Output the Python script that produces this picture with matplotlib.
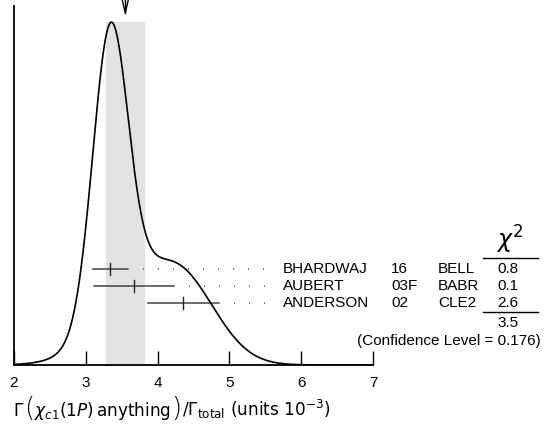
import numpy as np
import matplotlib
matplotlib.use("Agg")
import matplotlib.pyplot as plt
from matplotlib.offsetbox import TextArea, HPacker, AnchoredOffsetbox

plt.rcParams['font.family'] = ['Liberation Sans', 'DejaVu Sans']
plt.rcParams['mathtext.fontset'] = 'dejavusans'

# data
authors = ["BHARDWAJ", "AUBERT", "ANDERSON"]
years = ["16", "03F", "02"]
experiments = ["BELL", "BABR", "CLE2"]
values = [3.34, 3.67, 4.36]
errors = [0.245, 0.555, 0.49]
chi2 = ["0.8", "0.1", "2.6"]
chi2_total = "3.5"
conf_level = "0.176"
avg_value = 3.55
avg_error = 0.27
xticks = [2, 3, 4, 5, 6, 7]

W, H = 546, 430
fig = plt.figure(figsize=(W / 100, H / 100), dpi=100)
ax = fig.add_axes([14 / W, 65 / H, 359 / W, 359 / H])

def fx(px):
    return px / W

def fy(py):
    return 1 - py / H

# ideogram
x = np.linspace(2, 7, 1000)
v = np.array(values)
e = np.array(errors)
curve = np.zeros_like(x)
for vi, ei in zip(v, e):
    curve += (1 / ei ** 2) * np.exp(-0.5 * ((x - vi) / ei) ** 2)
peak = 0.955
curve = curve / curve.max() * peak

ax.fill_between([avg_value - avg_error, avg_value + avg_error], 0, peak,
                color='#e3e3e3', lw=0, zorder=0)
ax.plot(x, curve, color='black', lw=1.2, zorder=3)

row_y = [0.267, 0.220, 0.173]
for yi, vi, ei in zip(row_y, values, errors):
    ax.plot([vi - ei, vi + ei], [yi, yi], color='#444444', lw=1.1, zorder=2)
    ax.plot([vi, vi], [yi - 0.017, yi + 0.017], color='#222222', lw=1.0, zorder=2)
    ax.plot([vi + ei + 0.21, 5.62], [yi, yi], color='#666666', lw=1.2,
            linestyle=(0, (0.6, 8.4)), zorder=1)

# arrow at top
ax.plot([avg_value, avg_value], [0.981, 1.017], color='black', lw=1.0, clip_on=False)
ax.plot([avg_value - 0.042, avg_value, avg_value + 0.042], [1.017, 0.981, 1.017],
        color='black', lw=1.0, clip_on=False)

ax.set_xlim(2, 7)
ax.set_ylim(0, 1)
ax.set_xticks(xticks)
ax.set_xticklabels([str(t) for t in xticks], fontsize=11)
ax.tick_params(axis='x', direction='in', length=10, width=1, pad=8)
ax.set_yticks([])
for s in ['top', 'right']:
    ax.spines[s].set_visible(False)
ax.spines['left'].set_linewidth(1.3)
ax.spines['bottom'].set_linewidth(1.3)

# x label built from pieces so the parentheses can be large
lab_fs = 12.2
pieces = [
    TextArea(r'$\Gamma$', textprops=dict(fontsize=lab_fs)),
    TextArea('(', textprops=dict(fontsize=19, family='DejaVu Sans', fontweight='light')),
    TextArea(r'$\chi_{c1}(1P)\,\mathrm{anything}$', textprops=dict(fontsize=lab_fs)),
    TextArea(')', textprops=dict(fontsize=19, family='DejaVu Sans', fontweight='light')),
    TextArea(r'$/\Gamma_{\mathrm{total}}$ (units $10^{-3}$)',
             textprops=dict(fontsize=lab_fs, family='DejaVu Sans')),
]
pack = HPacker(children=pieces, align='baseline', pad=0, sep=0)
anch = AnchoredOffsetbox(loc='center left', child=pack, pad=0, frameon=False,
                         bbox_to_anchor=(fx(13), fy(409)), bbox_transform=fig.transFigure,
                         borderpad=0)
fig.add_artist(anch)

# table text
row_py = [269, 286, 303]
for py, a, yr, ex, c in zip(row_py, authors, years, experiments, chi2):
    fig.text(fx(283), fy(py), a, fontsize=11, va='center', ha='left')
    fig.text(fx(391), fy(py), yr, fontsize=11, va='center', ha='left')
    fig.text(fx(438), fy(py), ex, fontsize=11, va='center', ha='left')
    fig.text(fx(508), fy(py), c, fontsize=11, va='center', ha='center')

fig.text(fx(510), fy(240), r'$\chi^2$', fontsize=17, va='center', ha='center')
fig.add_artist(plt.Line2D([fx(483), fx(538)], [fy(258), fy(258)], color='black', lw=1.0))
fig.add_artist(plt.Line2D([fx(483), fx(538)], [fy(312), fy(312)], color='black', lw=1.0))
fig.text(fx(508), fy(323), chi2_total, fontsize=11, va='center', ha='center')
fig.text(fx(541), fy(341), f"(Confidence Level = {conf_level})", fontsize=11, va='center', ha='right')

fig.savefig("out.png", dpi=100)
